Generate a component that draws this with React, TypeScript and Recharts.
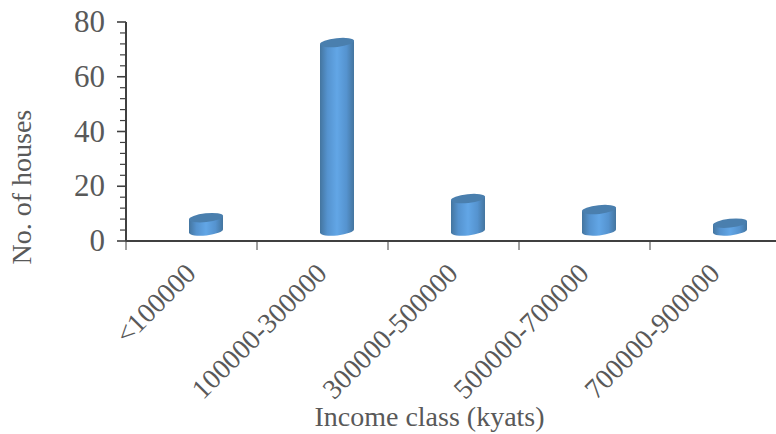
import React from "react";
import { BarChart, Bar, XAxis, YAxis } from "recharts";

const categories = ["<100000", "100000-300000", "300000-500000", "500000-700000", "700000-900000"];
const houses = [8.5, 72.5, 15.5, 11.5, 6.5];
const yTicks = [0, 4, 8, 12, 16, 20, 24, 28, 32, 36, 40, 44, 48, 52, 56, 60, 64, 68, 72, 76, 80];
const data = categories.map((c, i) => ({ category: c, houses: houses[i] }));

const FONT = '"Liberation Serif", "Times New Roman", serif';
const TEXT = "#595959";
const AXIS = "#404040";

const Cylinder = (props: any) => {
  const { x, y, width, height } = props;
  const cx = x + width / 2 + 14;
  const rx = 17;
  const ry = 4.4;
  const tilt = 1.8;
  const yb = y + height - 10;
  const d = `M${cx - rx},${y + tilt} L${cx - rx},${yb + tilt} A${rx},${ry} -6 0 0 ${cx + rx},${yb - tilt} L${cx + rx},${y - tilt} Z`;
  return (
    <g>
      <path d={d} fill="url(#cyl)" />
      <ellipse cx={cx} cy={y} rx={rx + 0.2} ry={ry} fill="#4a7fae" transform={`rotate(-6 ${cx} ${y})`} />
    </g>
  );
};

const YTick = (props: any) => {
  const { y, payload } = props;
  const major = payload.value % 20 === 0;
  return (
    <g>
      <line x1={126} x2={major ? 117 : 120} y1={y} y2={y} stroke={AXIS} strokeWidth={major ? 1.6 : 1.2} />
      {major && (
        <text x={105} y={y + 10} textAnchor="end" fontFamily={FONT} fontSize={31} fill={TEXT}>
          {payload.value}
        </text>
      )}
    </g>
  );
};

const XTick = (props: any) => {
  const { x, y, payload } = props;
  const left = x - 65.5;
  return (
    <g>
      <line x1={left} x2={left} y1={241} y2={250} stroke={AXIS} strokeWidth={1} />
      <text
        x={x + 6}
        y={y + 26}
        textAnchor="end"
        fontFamily={FONT}
        fontSize={28}
        fill={TEXT}
        transform={`rotate(-45 ${x + 6} ${y + 26})`}
      >
        {payload.value}
      </text>
    </g>
  );
};

export default function App() {
  return (
    <div style={{ position: "absolute", left: 0, top: 0, width: 776, height: 434, overflow: "hidden", background: "#fff" }}>
      <BarChart width={781} height={434} data={data} margin={{ top: 22, right: 0, bottom: 0, left: 0 }}>
        <defs>
          <linearGradient id="cyl" x1="0" y1="0" x2="1" y2="0">
            <stop offset="0%" stopColor="#44759f" />
            <stop offset="22%" stopColor="#5593cf" />
            <stop offset="50%" stopColor="#62a6e6" />
            <stop offset="78%" stopColor="#5593cf" />
            <stop offset="100%" stopColor="#44759f" />
          </linearGradient>
        </defs>
        <XAxis
          dataKey="category"
          height={193}
          interval={0}
          axisLine={{ stroke: AXIS, strokeWidth: 2 }}
          tickLine={false}
          tick={<XTick />}
          label={{ value: "Income class (kyats)", position: "insideBottom", offset: 8, dx: -24, fontFamily: FONT, fontSize: 28, fill: TEXT }}
        />
        <YAxis
          width={126}
          domain={[0, 80]}
          ticks={yTicks}
          interval={0}
          axisLine={{ stroke: AXIS, strokeWidth: 2 }}
          tickLine={false}
          tick={<YTick />}
          label={{ value: "No. of houses", angle: -90, position: "insideLeft", dx: 16, dy: 133, fontFamily: FONT, fontSize: 28, fill: TEXT }}
        />
        <Bar dataKey="houses" barSize={34} shape={<Cylinder />} isAnimationActive={false} />
      </BarChart>
    </div>
  );
}
